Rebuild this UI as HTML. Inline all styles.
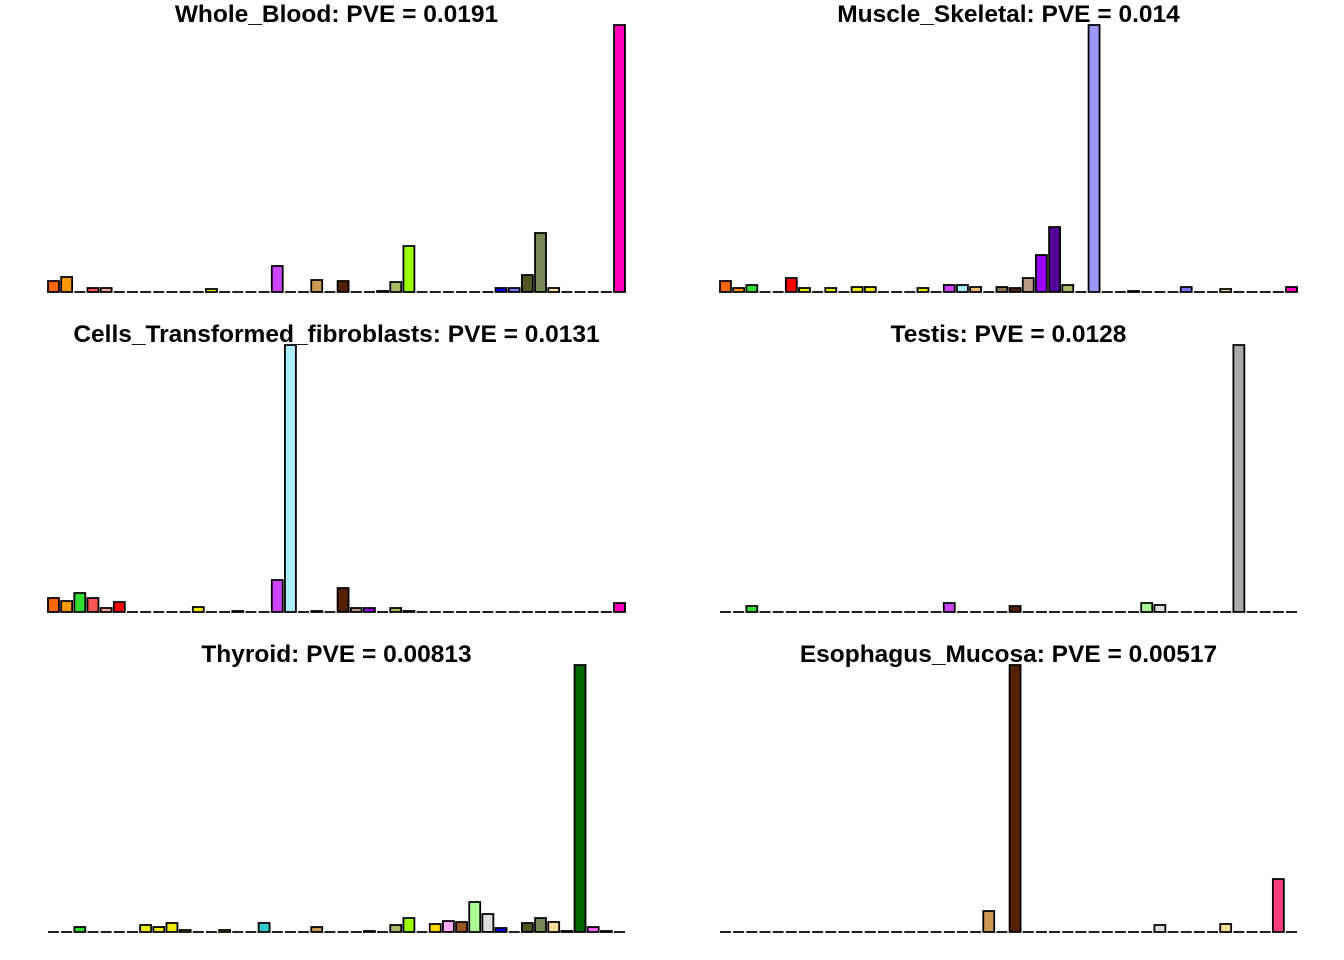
<!DOCTYPE html>
<html><head><meta charset="utf-8"><style>
body{margin:0;background:#fff}
svg{display:block}
text{font-family:"Liberation Sans",Arial,sans-serif;font-weight:bold;font-size:24.5px;fill:#000}
</style></head><body>
<svg id="chart" width="1344" height="960" viewBox="0 0 1344 960" xmlns="http://www.w3.org/2000/svg"></svg>
<script>
const tissueColors = ["#FF6600","#FF9900","#33DD33","#FF5555","#FFAA99","#FF0000","#EEEE00","#EEEE00","#EEEE00","#EEEE00","#EEEE00","#EEEE00","#EEEE00","#EEEE00","#EEEE00","#EEEE00","#33CCCC","#CC44FF","#AAEEFF","#EEBB77","#CC9955","#8B7355","#552200","#BB9988","#9900FF","#550099","#AABB66","#99FF00","#9999FF","#FFD700","#FFAAFF","#995522","#AAFF99","#DDDDDD","#0000FF","#7777FF","#555522","#778855","#FFDD99","#AAAAAA","#006600","#FF66FF","#FF3D80","#FF00BB"];
const panelTitles = ["Whole_Blood: PVE = 0.0191","Muscle_Skeletal: PVE = 0.014","Cells_Transformed_fibroblasts: PVE = 0.0131","Testis: PVE = 0.0128","Thyroid: PVE = 0.00813","Esophagus_Mucosa: PVE = 0.00517"];
function z(){return new Array(44).fill(0);}
const wholeBlood = z(); Object.assign(wholeBlood,{0:11,1:15,3:4,4:4,12:3,17:26,20:12,22:11,25:1,26:10,27:46,34:4,35:4,36:17,37:59,38:4,43:267});
const muscleSkeletal = z(); Object.assign(muscleSkeletal,{0:11,1:4,2:7,5:14,6:4,8:4,10:5,11:5,15:4,17:7,18:7,19:5,21:5,22:4,23:14,24:37,25:65,26:7,28:267,31:1,35:5,38:3,43:5});
const fibroblasts = z(); Object.assign(fibroblasts,{0:14,1:11,2:19,3:14,4:4,5:10,11:5,14:1,17:32,18:267,20:1,22:24,23:4,24:4,26:4,27:1,43:9});
const testis = z(); Object.assign(testis,{2:6,17:9,22:6,32:9,33:7,39:267});
const thyroid = z(); Object.assign(thyroid,{2:5,7:7,8:5,9:9,10:2,13:2,16:9,20:5,24:1,26:7,27:14,29:8,30:11,31:10,32:30,33:18,34:4,36:9,37:14,38:10,39:1,40:267,41:5,42:1});
const esophagusMucosa = z(); Object.assign(esophagusMucosa,{20:21,22:267,33:7,38:8,42:53});
const panelValues = [wholeBlood,muscleSkeletal,fibroblasts,testis,thyroid,esophagusMucosa];
const NS="http://www.w3.org/2000/svg";
const svg=document.getElementById('chart');
const PW=577, PH=267, pitch=PW/(43+1/1.2), bw=pitch/1.2;
const names=["whole-blood","muscle-skeletal","fibroblasts","testis","thyroid","esophagus-mucosa"];
panelValues.forEach((vals,pi)=>{
  const x0 = pi%2===0 ? 48 : 720;
  const base = 292 + Math.floor(pi/2)*320;
  const mx = Math.max(...vals);
  const xs = i => x0 + i*pitch;
  const ys = v => PH*v/mx;
  const g=document.createElementNS(NS,'g');
  
  
  svg.appendChild(g);
  const t=document.createElementNS(NS,'text');
  
  
  t.setAttribute('x', x0+PW/2); t.setAttribute('y', base-270); t.setAttribute('text-anchor','middle');
  t.textContent=panelTitles[pi];
  g.appendChild(t);
  vals.forEach((v,i)=>{
    const h=ys(v);
    const x=xs(i);
    const p=document.createElementNS(NS,'path');
    
    
    p.setAttribute('d','M'+x+','+base+'V'+(base-h)+'H'+(x+bw)+'V'+base+'Z');
    p.setAttribute('fill',tissueColors[i]); p.setAttribute('stroke','#000'); p.setAttribute('stroke-width','1.8');
    g.appendChild(p);
  });
});
</script>
</body></html>
